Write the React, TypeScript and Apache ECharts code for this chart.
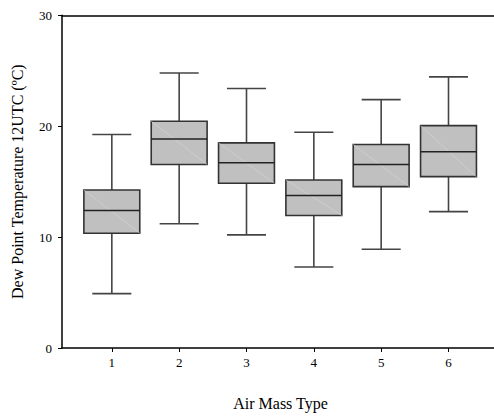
import React, { useEffect, useRef } from "react";
import * as echarts from "echarts";

const categories = [1, 2, 3, 4, 5, 6];
const whiskerLow = [4.9, 11.2, 10.2, 7.3, 8.9, 12.3];
const q1 = [10.35, 16.55, 14.85, 11.95, 14.55, 15.45];
const medians = [12.4, 18.85, 16.7, 13.75, 16.55, 17.7];
const q3 = [14.25, 20.45, 18.5, 15.15, 18.35, 20.05];
const whiskerHigh = [19.25, 24.8, 23.4, 19.45, 22.4, 24.45];
const yTicks = [0, 10, 20, 30];

const FONT = "'Liberation Serif', 'Times New Roman', serif";

export default function App() {
  const ref = useRef<HTMLDivElement>(null);
  useEffect(() => {
    if (!ref.current) return;
    const chart = echarts.init(ref.current, undefined, { renderer: "svg" });
    const data = categories.map((c, i) => [c, whiskerLow[i], q1[i], medians[i], q3[i], whiskerHigh[i]]);
    chart.setOption({
      animation: false,
      grid: {
        left: 62,
        top: 15.3,
        bottom: 64.3,
        right: 1,
        show: false,
      },
      xAxis: [
        {
          type: "value",
          min: 0.26,
          max: 6.75,
          name: "Air Mass Type",
          nameLocation: "middle",
          nameGap: 47,
          nameTextStyle: { fontFamily: FONT, fontSize: 16, color: "#000" },
          splitLine: { show: false },
          axisLine: { show: true, onZero: false, lineStyle: { color: "#000", width: 1.5 } },
          axisTick: { show: true, customValues: categories, length: 4, lineStyle: { color: "#000" } },
          axisLabel: {
            customValues: categories,
            margin: 8,
            fontFamily: FONT,
            fontSize: 13,
            color: "#000",
          },
        },
        {
          type: "value",
          position: "top",
          min: 0.26,
          max: 6.75,
          splitLine: { show: false },
          axisLine: { show: true, onZero: false, lineStyle: { color: "#000", width: 1.5 } },
          axisTick: { show: false },
          axisLabel: { show: false },
        },
      ],
      yAxis: {
        type: "value",
        min: 0,
        max: 30,
        interval: 10,
        name: "Dew Point Temperature 12UTC (ºC)",
        nameLocation: "middle",
        nameRotate: 90,
        nameGap: 37,
        nameTextStyle: { fontFamily: FONT, fontSize: 16, color: "#000" },
        splitLine: { show: false },
        axisLine: { show: true, lineStyle: { color: "#000", width: 1.5 } },
        axisTick: { show: true, length: 4, lineStyle: { color: "#000" } },
        axisLabel: {
          margin: 10,
          fontFamily: FONT,
          fontSize: 13,
          color: "#000",
          formatter: (v: number) => (yTicks.includes(v) ? String(v) : ""),
        },
      },
      series: [
        {
          type: "custom",
          xAxisIndex: 0,
          data,
          encode: { x: 0, y: [1, 2, 3, 4, 5] },
          renderItem: (params: any, api: any) => {
            const x = api.value(0);
            const lo = api.coord([x, api.value(1)]);
            const b1 = api.coord([x, api.value(2)]);
            const md = api.coord([x, api.value(3)]);
            const b3 = api.coord([x, api.value(4)]);
            const hi = api.coord([x, api.value(5)]);
            const boxHalf = api.size([0.83, 0])[0] / 2;
            const capHalf = api.size([0.58, 0])[0] / 2;
            const cx = lo[0];
            const wStyle = { stroke: "#444", lineWidth: 1.6 };
            return {
              type: "group",
              children: [
                { type: "line", shape: { x1: cx, y1: hi[1], x2: cx, y2: b3[1] }, style: wStyle },
                { type: "line", shape: { x1: cx, y1: b1[1], x2: cx, y2: lo[1] }, style: wStyle },
                { type: "line", shape: { x1: cx - capHalf, y1: hi[1], x2: cx + capHalf, y2: hi[1] }, style: wStyle },
                { type: "line", shape: { x1: cx - capHalf, y1: lo[1], x2: cx + capHalf, y2: lo[1] }, style: wStyle },
                {
                  type: "rect",
                  shape: { x: cx - boxHalf, y: b3[1], width: boxHalf * 2, height: b1[1] - b3[1] },
                  style: { fill: "#c0c0c0", stroke: "#333", lineWidth: 1.6 },
                },
                {
                  type: "line",
                  shape: { x1: cx - boxHalf, y1: b3[1], x2: cx + boxHalf, y2: b1[1] },
                  style: { stroke: "#d6d6d6", lineWidth: 0.6 },
                },
                {
                  type: "line",
                  shape: { x1: cx - boxHalf, y1: md[1], x2: cx + boxHalf, y2: md[1] },
                  style: { stroke: "#222", lineWidth: 1.6 },
                },
              ],
            };
          },
        },
      ],
    });
    return () => chart.dispose();
  }, []);
  return (
    <div style={{ width: 494, height: 416, position: "absolute", left: 0, top: 0, overflow: "hidden" }}>
      <div ref={ref} style={{ width: 500, height: 416 }} />
    </div>
  );
}
